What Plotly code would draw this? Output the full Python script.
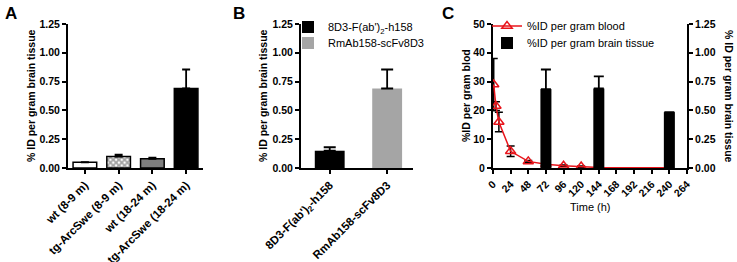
import plotly.graph_objects as go

# ---------------- data ----------------
a_categories = ["wt (8-9 m)", "tg-ArcSwe (8-9 m)", "wt (18-24 m)", "tg-ArcSwe (18-24 m)"]
a_values = [0.05, 0.10, 0.08, 0.69]
a_errors = [0.0, 0.015, 0.01, 0.165]

b_categories = ["8D3-F(ab')<sub>2</sub>-h158", "RmAb158-scFv8D3"]
b_values = [0.15, 0.69]
b_errors = [0.03, 0.165]

c_time = [1, 4, 8, 24, 48, 72, 96, 120, 144, 240]
c_blood = [29.0, 21.5, 16.0, 5.8, 2.3, 1.3, 0.8, 0.5, 0.15, 0.05]
c_blood_err = [9.0, 1.5, 3.4, 1.8, 0.3, 0.2, 0.2, 0.2, 0.1, 0.05]
c_bar_time = [72, 144, 240]
c_brain = [0.685, 0.69, 0.485]
c_brain_err = [0.17, 0.105, 0.0]

c_xticks = list(range(0, 265, 24))
brain_ticks = [0.0, 0.25, 0.5, 0.75, 1.0, 1.25]
blood_ticks = [0, 10, 20, 30, 40, 50]

FONT = "Arial, Liberation Sans, sans-serif"
W, H = 737, 262

def fx(px):
    return px / W

def fy(py):
    return 1 - py / H

def bold(labels):
    return ["<b>%s</b>" % s for s in labels]

fig = go.Figure()

# ---------- Panel A ----------
fig.add_trace(go.Bar(
    x=list(range(4)), y=a_values, width=0.7,
    marker=dict(color=["white", "white", "#7f7f7f", "black"],
                line=dict(color="black", width=1.5),
                pattern=dict(shape=["", "x", "", ""], fgcolor="black",
                             bgcolor="white", size=4, solidity=0.7)),
    error_y=dict(type="data", array=a_errors, arrayminus=[0]*4, symmetric=False,
                 color="black", thickness=1.8, width=4),
    xaxis="x", yaxis="y", showlegend=False))

# ---------- Panel B ----------
b_colors = ["black", "#a5a5a5"]
b_legends = ["legend", "legend2"]
for i, (cat, val, err) in enumerate(zip(b_categories, b_values, b_errors)):
    fig.add_trace(go.Bar(
        x=[i], y=[val], width=0.52, name=cat,
        marker=dict(color=b_colors[i], line=dict(width=0)),
        error_y=dict(type="data", array=[err], arrayminus=[0], symmetric=False,
                     color="black", thickness=1.8, width=6),
        xaxis="x2", yaxis="y2", legend=b_legends[i]))

# ---------- Panel C ----------
fig.add_trace(go.Scatter(
    x=c_time, y=c_blood, mode="lines+markers", name="%ID per gram blood",
    line=dict(color="#e8141b", width=1.5),
    marker=dict(symbol="triangle-up-open", size=9, color="#e8141b",
                line=dict(width=1.5)),
    error_y=dict(type="data", array=c_blood_err, color="black",
                 thickness=1.5, width=4),
    xaxis="x3", yaxis="y3", legend="legend3"))
fig.add_trace(go.Bar(
    x=c_bar_time, y=c_brain, width=15, name="%ID per gram brain tissue",
    marker=dict(color="black", line=dict(width=0)),
    error_y=dict(type="data", array=c_brain_err, arrayminus=[0]*3, symmetric=False,
                 color="black", thickness=1.8, width=5),
    xaxis="x3", yaxis="y4", legend="legend4"))

axis_common = dict(showline=True, linecolor="black", linewidth=2, ticks="outside",
                   ticklen=4, tickwidth=1.5, tickcolor="black", showgrid=False,
                   zeroline=False, automargin=False)
yfont = dict(tickfont=dict(family=FONT, size=10.5, color="black"))
catfont = dict(tickfont=dict(family=FONT, size=11.5, color="black"))
timefont = dict(tickfont=dict(family=FONT, size=10.5, color="black"))

brain_text = bold(["%.2f" % v for v in brain_ticks])
ydom = [fy(168), fy(24)]

def leg(xp, yp):
    return dict(x=fx(xp), y=fy(yp), xanchor="left", yanchor="middle",
                bgcolor="rgba(0,0,0,0)", font=dict(family=FONT, size=11),
                itemwidth=30)

fig.update_layout(
    width=W, height=H, margin=dict(l=0, r=0, t=0, b=0),
    paper_bgcolor="white", plot_bgcolor="white",
    font=dict(family=FONT, color="black"),
    barmode="overlay",
    xaxis=dict(domain=[fx(68), fx(203)], range=[-0.5, 3.5], tickmode="array",
               tickvals=list(range(4)), ticktext=bold(a_categories), tickangle=-45,
               anchor="y", **axis_common, **catfont),
    yaxis=dict(domain=ydom, range=[0, 1.25], tickmode="array", tickvals=brain_ticks,
               ticktext=brain_text, anchor="x", **axis_common, **yfont),
    xaxis2=dict(domain=[fx(301), fx(413)], range=[-0.5, 1.45], tickmode="array",
                tickvals=list(range(2)), ticktext=bold(b_categories), tickangle=-45,
                anchor="y2", **axis_common, **catfont),
    yaxis2=dict(domain=ydom, range=[0, 1.25], tickmode="array", tickvals=brain_ticks,
                ticktext=brain_text, anchor="x2", **axis_common, **yfont),
    xaxis3=dict(domain=[fx(493), fx(687)], range=[0, 264], tickmode="array",
                tickvals=c_xticks, ticktext=bold([str(v) for v in c_xticks]),
                tickangle=-45, anchor="y3", **axis_common, **timefont),
    yaxis3=dict(domain=ydom, range=[0, 50], tickmode="array", tickvals=blood_ticks,
                ticktext=bold([str(v) for v in blood_ticks]),
                anchor="x3", **axis_common, **yfont),
    yaxis4=dict(domain=ydom, range=[0, 1.25], tickmode="array", tickvals=brain_ticks,
                ticktext=brain_text, overlaying="y3", side="right", anchor="x3",
                **axis_common, **yfont),
    legend=leg(288, 27),
    legend2=leg(288, 43),
    legend3=leg(487, 26),
    legend4=leg(487, 43),
)

ann_title = dict(family=FONT, size=10.5, color="black")
annotations = [
    dict(text="<b>A</b>", x=fx(11), y=fy(13)),
    dict(text="<b>B</b>", x=fx(239), y=fy(13)),
    dict(text="<b>C</b>", x=fx(448), y=fy(13)),
]
for a in annotations:
    a.update(xref="paper", yref="paper", showarrow=False, xanchor="center",
             yanchor="middle", font=dict(family=FONT, size=17, color="black"))
titles = [
    dict(text="<b>% ID per gram brain tissue</b>", x=fx(31), y=fy(96), textangle=-90),
    dict(text="<b>% ID per gram brain tissue</b>", x=fx(263), y=fy(96), textangle=-90),
    dict(text="<b>%ID per gram blod</b>", x=fx(466), y=fy(96), textangle=-90),
    dict(text="<b>% ID per gram brain tissue</b>", x=fx(729), y=fy(96), textangle=90),
]
for t in titles:
    t.update(xref="paper", yref="paper", showarrow=False, xanchor="center",
             yanchor="middle", font=ann_title)
annotations += titles
annotations.append(dict(text="Time (h)", x=fx(590), y=fy(207), xref="paper",
                        yref="paper", showarrow=False, xanchor="center",
                        yanchor="middle",
                        font=dict(family=FONT, size=11, color="black")))
fig.update_layout(annotations=annotations)

fig.write_html("out.html", config={"displayModeBar": False},
               post_script="document.body.style.margin='0';")
